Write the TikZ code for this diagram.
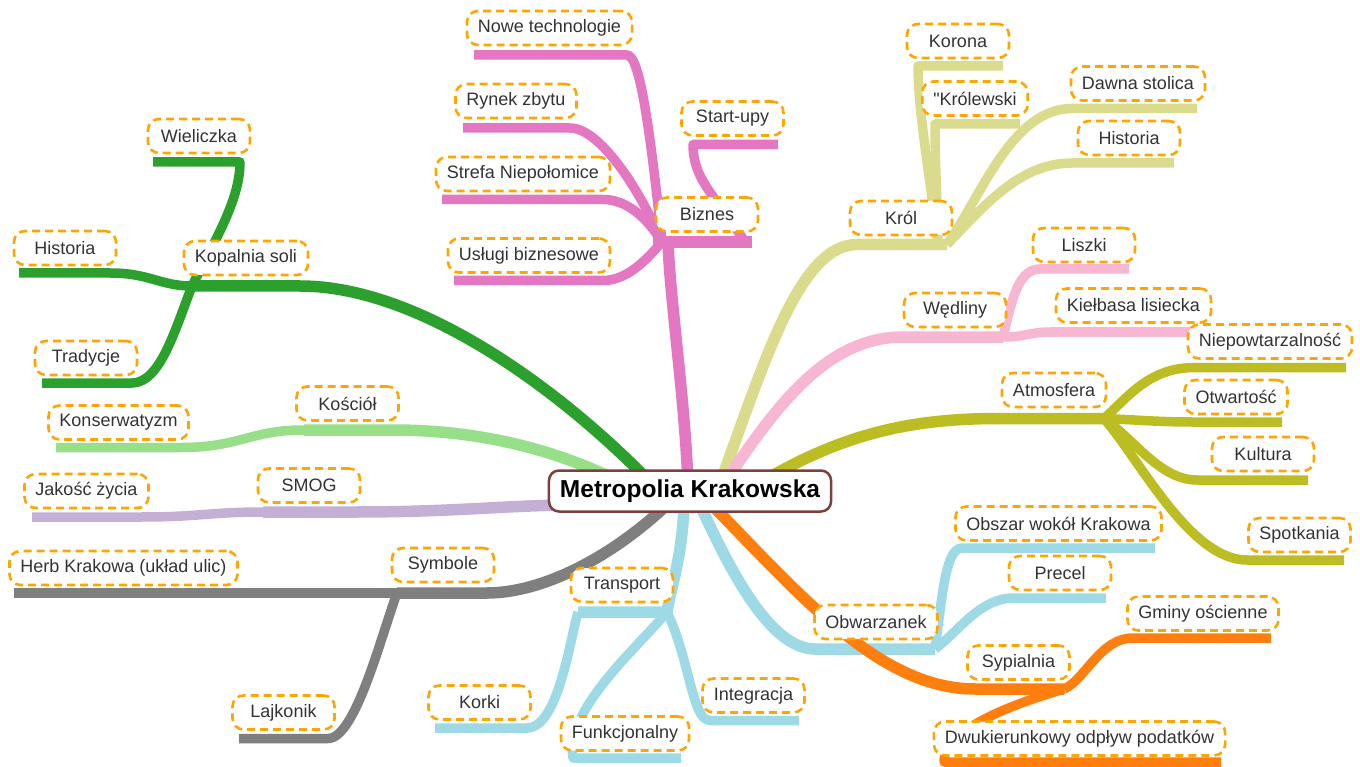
\documentclass[tikz,border=0pt]{standalone}
\usepackage{fontspec}
\setmainfont{Liberation Sans}
\newfontfamily\lsplain{Liberation Sans}
\definecolor{cA}{HTML}{2CA02C}
\definecolor{cB}{HTML}{98DF8A}
\definecolor{cC}{HTML}{C5B0D5}
\definecolor{cD}{HTML}{7F7F7F}
\definecolor{cE}{HTML}{E377C2}
\definecolor{cF}{HTML}{DBDB8D}
\definecolor{cG}{HTML}{F7B6D2}
\definecolor{cH}{HTML}{BCBD22}
\definecolor{cI}{HTML}{FF7F0E}
\definecolor{cJ}{HTML}{9EDAE5}
\definecolor{boxor}{HTML}{FFA500}
\definecolor{txtg}{HTML}{333333}
\definecolor{rootred}{HTML}{7F3F3F}
\begin{document}
\begin{tikzpicture}[x=1pt,y=-1pt,
  lbl/.style={draw=boxor, line width=2.6pt, dash pattern=on 8pt off 5pt, rounded corners=11pt, fill=white, text=txtg, font=\fontsize{18}{21}\selectfont, inner xsep=11pt, inner ysep=2pt, minimum height=34pt, minimum width=102pt},
  rootbox/.style={draw=rootred, line width=2.5pt, rounded corners=10pt, fill=white, text=black, font=\fontsize{24.5}{28}\selectfont\bfseries, inner xsep=11pt, inner ysep=2pt, minimum height=41pt},
  br1/.style={line width=11.5pt, line join=round},
  br2/.style={line width=9.5pt, line join=round}]
\useasboundingbox (0,0) rectangle (1360,767);
\fill[white] (0,0) rectangle (1360,767);

% ---------- coordinates ----------
% dark green
\coordinate (rA) at (648,480);
\coordinate (kopL) at (192,286); \coordinate (kopR) at (300,286);
\coordinate (hisLL) at (19,273); \coordinate (hisLR) at (110,273);
\coordinate (wieL) at (153,162); \coordinate (wieR) at (240,162);
\coordinate (traL) at (42,383); \coordinate (traR) at (132,383);
% light green
\coordinate (rB) at (628,486);
\coordinate (kosL) at (304,430); \coordinate (kosR) at (393,430);
\coordinate (konL) at (56,447.5); \coordinate (konR) at (181,447.5);
% purple
\coordinate (rC) at (565,505);
\coordinate (smoL) at (263,512); \coordinate (smoR) at (355,512);
\coordinate (jakL) at (32,517); \coordinate (jakR) at (141,517);
% gray
\coordinate (rD) at (672,500);
\coordinate (symL) at (397,593); \coordinate (symR) at (487,593);
\coordinate (herL) at (14,593);
\coordinate (lajL) at (239,738.5); \coordinate (lajR) at (328,738.5);
% pink
\coordinate (rE) at (688,485);
\coordinate (bizM) at (668,242); \coordinate (bizJ) at (662,242);
\coordinate (bizL) at (653,242); \coordinate (bizR) at (752,242);
\coordinate (bizS) at (745,242);
\coordinate (nowL) at (474,55); \coordinate (nowR) at (627,55);
\coordinate (rynL) at (463,128); \coordinate (rynR) at (570,128);
\coordinate (strL) at (442,199.5); \coordinate (strR) at (603,199.5);
\coordinate (uslL) at (454,280.5); \coordinate (uslR) at (603,280.5);
\coordinate (staL) at (693,144.5); \coordinate (staR) at (778,144.5);
% khaki
\coordinate (rF) at (722,478);
\coordinate (krL) at (857,244.5); \coordinate (krR) at (947,244.5);
\coordinate (krJ) at (938,244.5);
\coordinate (korL) at (918,66); \coordinate (korR) at (1003,66);
\coordinate (krlL) at (935,124); \coordinate (krlR) at (1020,124);
\coordinate (dawL) at (1072,108.5); \coordinate (dawR) at (1197,108.5);
\coordinate (hisRL) at (1072,163); \coordinate (hisRR) at (1174,163);
% light pink
\coordinate (rG) at (728,478);
\coordinate (wedL) at (903,337); \coordinate (wedR) at (1003,337);
\coordinate (lisL) at (1040,269); \coordinate (lisR) at (1129,269);
\coordinate (kieL) at (1050,332); \coordinate (kieR) at (1197,332);
% olive
\coordinate (rH) at (765,480);
\coordinate (atmL) at (1000,418.5); \coordinate (atmJ) at (1104,418.5);
\coordinate (nieL) at (1195,367.5); \coordinate (nieR) at (1346,367.5);
\coordinate (otwL) at (1192,422); \coordinate (otwR) at (1282,422);
\coordinate (kulL) at (1197,480); \coordinate (kulR) at (1308,480);
\coordinate (spoL) at (1247,560); \coordinate (spoR) at (1344,560);
% orange
\coordinate (rI) at (712,505);
\coordinate (sypL) at (975,689); \coordinate (sypR) at (1064,689);
\coordinate (gmiL) at (1133,638); \coordinate (gmiR) at (1271,638);
\coordinate (dwuL) at (944,762); \coordinate (dwuR) at (1221,762);
% light blue
\coordinate (rJ) at (700,505);
\coordinate (obwL) at (815,649); \coordinate (obwR) at (935,649);
\coordinate (obsL) at (962,548); \coordinate (obsR) at (1155,548);
\coordinate (preL) at (1014,598); \coordinate (preR) at (1106,598);
\coordinate (rK) at (684,505);
\coordinate (trpL) at (578,612); \coordinate (trpR) at (667,612);
\coordinate (korkL) at (435,728); \coordinate (korkR) at (527,728);
\coordinate (funL) at (573,758); \coordinate (funR) at (681,758);
\coordinate (intL) at (710,720.5); \coordinate (intR) at (799,720.5);

% ---------- branches ----------
% light green
\draw[br1,cB] (rB) .. controls (560,450) and (480,430) .. (kosR) -- (kosL);
\draw[br2,cB] (kosL) .. controls (250,430) and (240,447.5) .. (konR) -- (konL);
% dark green
\draw[br1,cA] (rA) .. controls (560,390) and (420,286) .. (kopR) -- (kopL);
\draw[br2,cA] (kopL) .. controls (160,286) and (150,273) .. (hisLR) -- (hisLL);
\draw[br2,cA] (kopL) .. controls (215,240) and (240,200) .. (wieR) -- (wieL);
\draw[br2,cA] (kopL) .. controls (175,330) and (160,383) .. (traR) -- (traL);
% purple
\draw[br1,cC] (rC) .. controls (500,506) and (450,512) .. (smoR) -- (smoL);
\draw[br2,cC] (smoL) .. controls (210,512) and (200,517) .. (jakR) -- (jakL);
% gray
\draw[br1,cD] (rD) .. controls (610,560) and (540,593) .. (symR) -- (symL);
\draw[br2,cD] (symL) -- (herL);
\draw[br2,cD] (symL) .. controls (380,640) and (355,738.5) .. (lajR) -- (lajL);
% pink
\draw[br1,cE] (rE) .. controls (685,400) and (670,300) .. (bizM);
\draw[br1,cE] (bizL) -- (bizR);
\draw[br2,cE] (bizJ) .. controls (650,130) and (640,55) .. (nowR) -- (nowL);
\draw[br2,cE] (bizJ) .. controls (640,190) and (600,128) .. (rynR) -- (rynL);
\draw[br2,cE] (bizJ) .. controls (645,215) and (625,199.5) .. (strR) -- (strL);
\draw[br2,cE] (bizJ) .. controls (650,255) and (630,280.5) .. (uslR) -- (uslL);
\draw[br2,cE] (bizS) .. controls (715,195) and (693,180) .. (staL) -- (staR);
% khaki
\draw[br1,cF] (rF) .. controls (765,360) and (800,244.5) .. (krL) -- (krR);
\draw[br2,cF] (krJ) .. controls (929,170) and (918,110) .. (korL) -- (korR);
\draw[br2,cF] (krJ) .. controls (937,200) and (935,160) .. (krlL) -- (krlR);
\draw[br2,cF] (krR) .. controls (982,195) and (1012,108.5) .. (dawL) -- (dawR);
\draw[br2,cF] (krR) .. controls (985,205) and (1020,163) .. (hisRL) -- (hisRR);
% light pink
\draw[br1,cG] (rG) .. controls (780,400) and (830,337) .. (wedL) -- (wedR);
\draw[br2,cG] (wedR) .. controls (1012,300) and (1018,269) .. (lisL) -- (lisR);
\draw[br2,cG] (wedR) .. controls (1025,337) and (1030,332) .. (kieL) -- (kieR);
% olive
\draw[br1,cH] (rH) .. controls (850,430) and (920,418.5) .. (atmL) -- (atmJ);
\draw[br2,cH] (atmJ) .. controls (1130,395) and (1150,367.5) .. (nieL) -- (nieR);
\draw[br2,cH] (atmJ) .. controls (1140,420) and (1160,422) .. (otwL) -- (otwR);
\draw[br2,cH] (atmJ) .. controls (1135,440) and (1160,480) .. (kulL) -- (kulR);
\draw[br2,cH] (atmJ) .. controls (1140,460) and (1190,560) .. (spoL) -- (spoR);
% light blue
\draw[br1,cJ] (rK) .. controls (682,560) and (670,590) .. (trpR) -- (trpL);
\draw[br2,cJ] (trpL) .. controls (570,640) and (558,728) .. (korkR) -- (korkL);
\draw[br2,cJ] (trpR) .. controls (635,650) and (565,710) .. (funL) -- (funR);
\draw[br2,cJ] (trpR) .. controls (690,660) and (692,720.5) .. (intL) -- (intR);
\draw[br1,cJ] (rJ) .. controls (730,570) and (770,649) .. (obwL) -- (obwR);
\draw[br2,cJ] (obwR) .. controls (942,600) and (945,548) .. (obsL) -- (obsR);
\draw[br2,cJ] (obwR) .. controls (960,630) and (980,598) .. (preL) -- (preR);
% orange
\draw[br1,cI] (rI) .. controls (800,595) and (880,689) .. (sypL) -- (sypR);
\draw[br2,cI] (sypR) .. controls (1085,680) and (1100,638) .. (gmiL) -- (gmiR);
\draw[br2,cI] (sypR) .. controls (1010,705) and (944,730) .. (dwuL) -- (dwuR);

% ---------- labels ----------
\node[lbl] (kop) at (246,258) {Kopalnia soli};
\node[lbl] (hisL) at (65,248) {Historia};
\node[lbl] (wie) at (199,136) {Wieliczka};
\node[lbl] (tra) at (86,358) {Tradycje};
\node[lbl] (kos) at (347.5,403.5) {Kościół};
\node[lbl] (kon) at (118.5,422.5) {Konserwatyzm};
\node[lbl] (smo) at (309,485.5) {SMOG};
\node[lbl] (jak) at (86.5,491) {Jakość życia};
\node[lbl] (sym) at (443,565) {Symbole};
\node[lbl] (her) at (123.5,568) {Herb Krakowa (układ ulic)};
\node[lbl] (laj) at (283.5,712.5) {Lajkonik};
\node[lbl] (biz) at (707,214.5) {Biznes};
\node[lbl] (now) at (549.5,28) {Nowe technologie};
\node[lbl] (ryn) at (516,101) {Rynek zbytu};
\node[lbl] (str) at (523,174) {Strefa Niepołomice};
\node[lbl] (usl) at (529,255.5) {Usługi biznesowe};
\node[lbl] (sta) at (732.5,118.5) {Start-upy};
\node[lbl] (kro) at (901,218) {Król};
\node[lbl] (kor) at (958,41) {Korona};
\node[lbl] (krl) at (975,98.5) {{\lsplain"}Królewski};
\node[lbl] (daw) at (1138,83.5) {Dawna stolica};
\node[lbl] (hisR) at (1129,138) {Historia};
\node[lbl] (wed) at (955,310) {Wędliny};
\node[lbl] (lis) at (1084,245) {Liszki};
\node[lbl] (kie) at (1133.5,305.5) {Kiełbasa lisiecka};
\node[lbl] (atm) at (1054,390) {Atmosfera};
\node[lbl] (nie) at (1270,341.5) {Niepowtarzalność};
\node[lbl] (otw) at (1236,397) {Otwartość};
\node[lbl] (kul) at (1263,454) {Kultura};
\node[lbl] (spo) at (1299.5,535) {Spotkania};
\node[lbl] (obw) at (876,622) {Obwarzanek};
\node[lbl] (obs) at (1058.5,523.5) {Obszar wokół Krakowa};
\node[lbl] (pre) at (1060,573) {Precel};
\node[lbl] (trp) at (622,585) {Transport};
\node[lbl] (kork) at (479.5,702.5) {Korki};
\node[lbl] (fun) at (625,733.5) {Funkcjonalny};
\node[lbl] (int) at (753.5,695.5) {Integracja};
\node[lbl] (syp) at (1018.5,662.5) {Sypialnia};
\node[lbl] (gmi) at (1203,613.5) {Gminy ościenne};
\node[lbl] (dwu) at (1079.5,738.5) {Dwukierunkowy odpływ podatków};

% ---------- root ----------
\node[rootbox] (root) at (690,491) {Metropolia Krakowska};
\end{tikzpicture}
\end{document}
